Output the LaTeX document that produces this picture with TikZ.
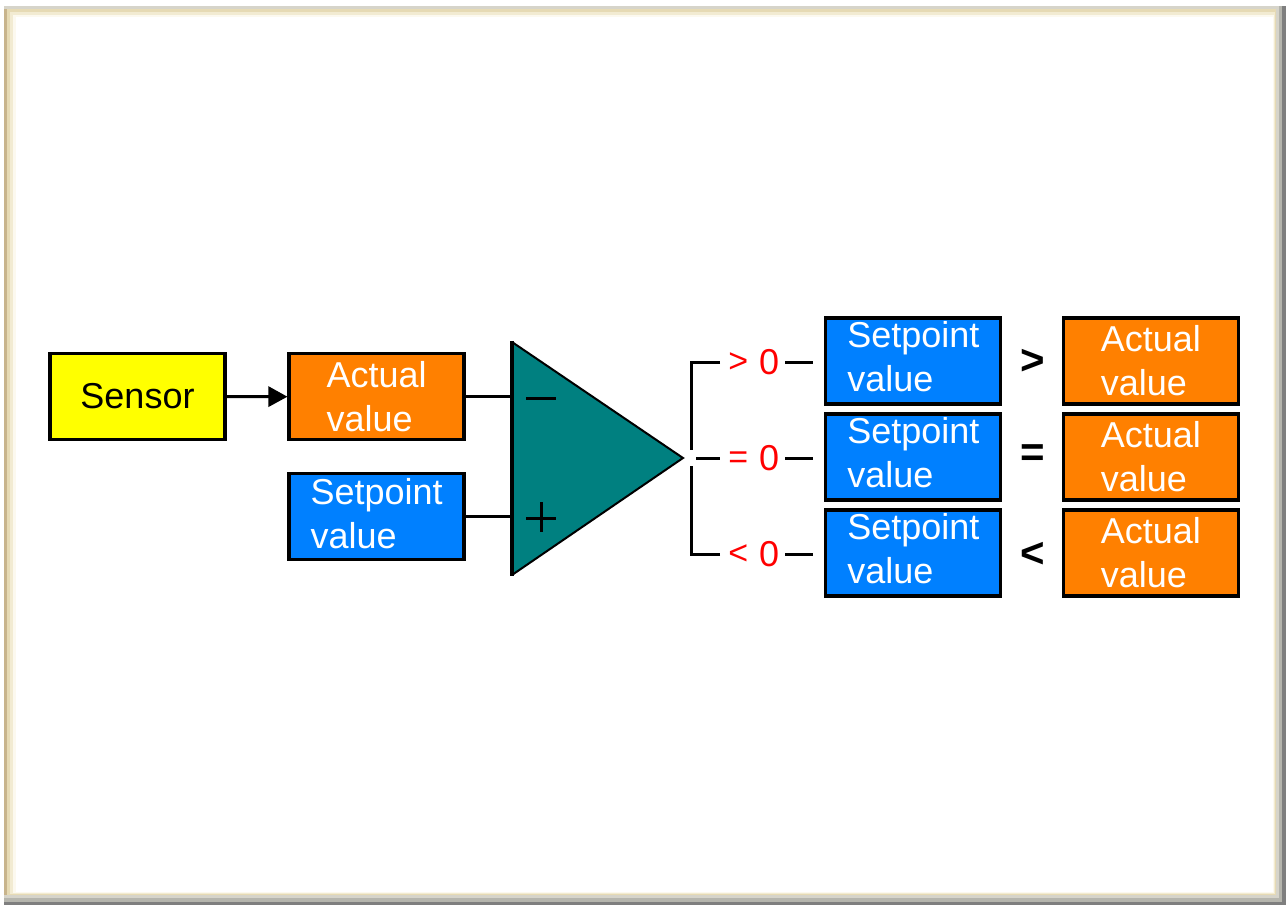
\documentclass[tikz,border=0pt]{standalone}
\usepackage{fontspec}
\setmainfont{Liberation Sans}
\usetikzlibrary{arrows.meta}
\definecolor{cyel}{HTML}{FFFF00}
\definecolor{corg}{HTML}{FF8000}
\definecolor{cblu}{HTML}{0080FF}
\definecolor{cteal}{HTML}{008080}
\definecolor{cred}{HTML}{FF0000}
\definecolor{fA}{HTML}{7F7F7F}
\definecolor{fB}{HTML}{B5B5AD}
\definecolor{fC}{HTML}{D6D4CA}
\definecolor{fD}{HTML}{C8B48C}
\definecolor{fE}{HTML}{E6DAB4}
\definecolor{fF}{HTML}{F2EBD2}
\definecolor{fG}{HTML}{FCF9EF}
\newcommand{\cmpsym}[2]{\makebox[18pt]{\raisebox{#2}{\fontsize{34}{34}\selectfont #1}}\hspace{12pt}0}
\begin{document}
\begin{tikzpicture}[x=1pt,y=-1pt,
  box/.style={draw=black,line width=3.3pt,minimum width=175pt,minimum height=86pt,
    inner sep=0pt,align=left,font=\fontsize{36}{44}\selectfont},
  sensorbox/.style={box,fill=cyel,text=black},
  actbox/.style={box,fill=corg,text=white},
  spbox/.style={box,fill=cblu,text=white},
  wire/.style={line width=3pt,draw=black},
  cmp/.style={text=cred,font=\fontsize{36}{36}\selectfont,inner sep=0pt,anchor=west},
  rel/.style={font=\bfseries\fontsize{42}{42}\selectfont,inner sep=0pt}]
\useasboundingbox (0,0) rectangle (1286,905);
% frame
\fill[white] (0,0) rectangle (1286,905);
\fill[fA] (4,6) rectangle (1286,905);
\fill[fB] (4,6) rectangle (1282,902);
\fill[fC] (4,6) rectangle (1279,898);
\fill[fD] (4,9) rectangle (1276,895);
\fill[fE] (7,9) rectangle (1276,895);
\fill[fF] (10,12) rectangle (1275,894);
\fill[fG] (13,15) rectangle (1274,893);
\fill[white] (16,17) rectangle (1273,892);

% left part
\node[sensorbox] (sen) at (137.5,396.5) {Sensor};
\node[actbox] (a0) at (376.6,396.7) {Actual\\value};
\node[spbox] (s0) at (376.6,516.3) {Setpoint\\value\rule[-5pt]{0pt}{0pt}};
\draw[wire,-{Triangle[length=19pt,width=20pt]}] (sen.east) -- (a0.west);

% comparator
\coordinate (t1) at (512,342);
\coordinate (t2) at (512,575);
\coordinate (tip) at (683,458);
\fill[cteal] (t1) -- (tip) -- (t2) -- cycle;
\draw[line width=2pt,line join=miter] (t1) -- (tip) -- (t2);
\draw[line width=3.5pt] ([yshift=1pt]t1) -- ([yshift=-1pt]t2);
\draw[wire] (a0.east) -- (a0.east -| t1);
\draw[wire] (s0.east) -- (s0.east -| t1);
\draw[wire] (526,398) -- (556,398);
\draw[wire] (526,518) -- (556,518);
\draw[wire] (541.7,502) -- (541.7,532);

% comparison labels
\node[cmp] (g1) at (729,362) {\cmpsym{>}{1.5pt}};
\node[cmp] (g2) at (729,458) {\cmpsym{=}{1.5pt}};
\node[cmp] (g3) at (729,554) {\cmpsym{<}{1.5pt}};

% bracket
\coordinate (bt) at (691.5,450);
\coordinate (bb) at (691.5,466);
\coordinate (bm) at (696,458);
\draw[wire] ([xshift=-9pt]g1.west) -| (bt);
\draw[wire] ([xshift=-9pt]g3.west) -| (bb);
\draw[wire] (bm) -- ([xshift=-9pt]g2.west);

% right boxes
\node[spbox] (s1) at (913.3,361) {Setpoint\\value\rule[-10pt]{0pt}{0pt}};
\node[spbox] (s2) at (913.3,457) {Setpoint\\value\rule[-10pt]{0pt}{0pt}};
\node[spbox] (s3) at (913.3,553) {Setpoint\\value\rule[-10pt]{0pt}{0pt}};
\node[actbox] (a1) at (1150.8,361) {Actual\\value};
\node[actbox] (a2) at (1150.8,457) {Actual\\value};
\node[actbox] (a3) at (1150.8,553) {Actual\\value};

\draw[wire] ([xshift=6pt]g1.east) -- ([xshift=-11pt]g1.east -| s1.west);
\draw[wire] ([xshift=6pt]g2.east) -- ([xshift=-11pt]g2.east -| s2.west);
\draw[wire] ([xshift=6pt]g3.east) -- ([xshift=-11pt]g3.east -| s3.west);

\node[rel] (r1) at (1033,362) {>};
\node[rel] (r2) at (1033,456) {=};
\node[rel] (r3) at (1033,555) {<};
\end{tikzpicture}
\end{document}
